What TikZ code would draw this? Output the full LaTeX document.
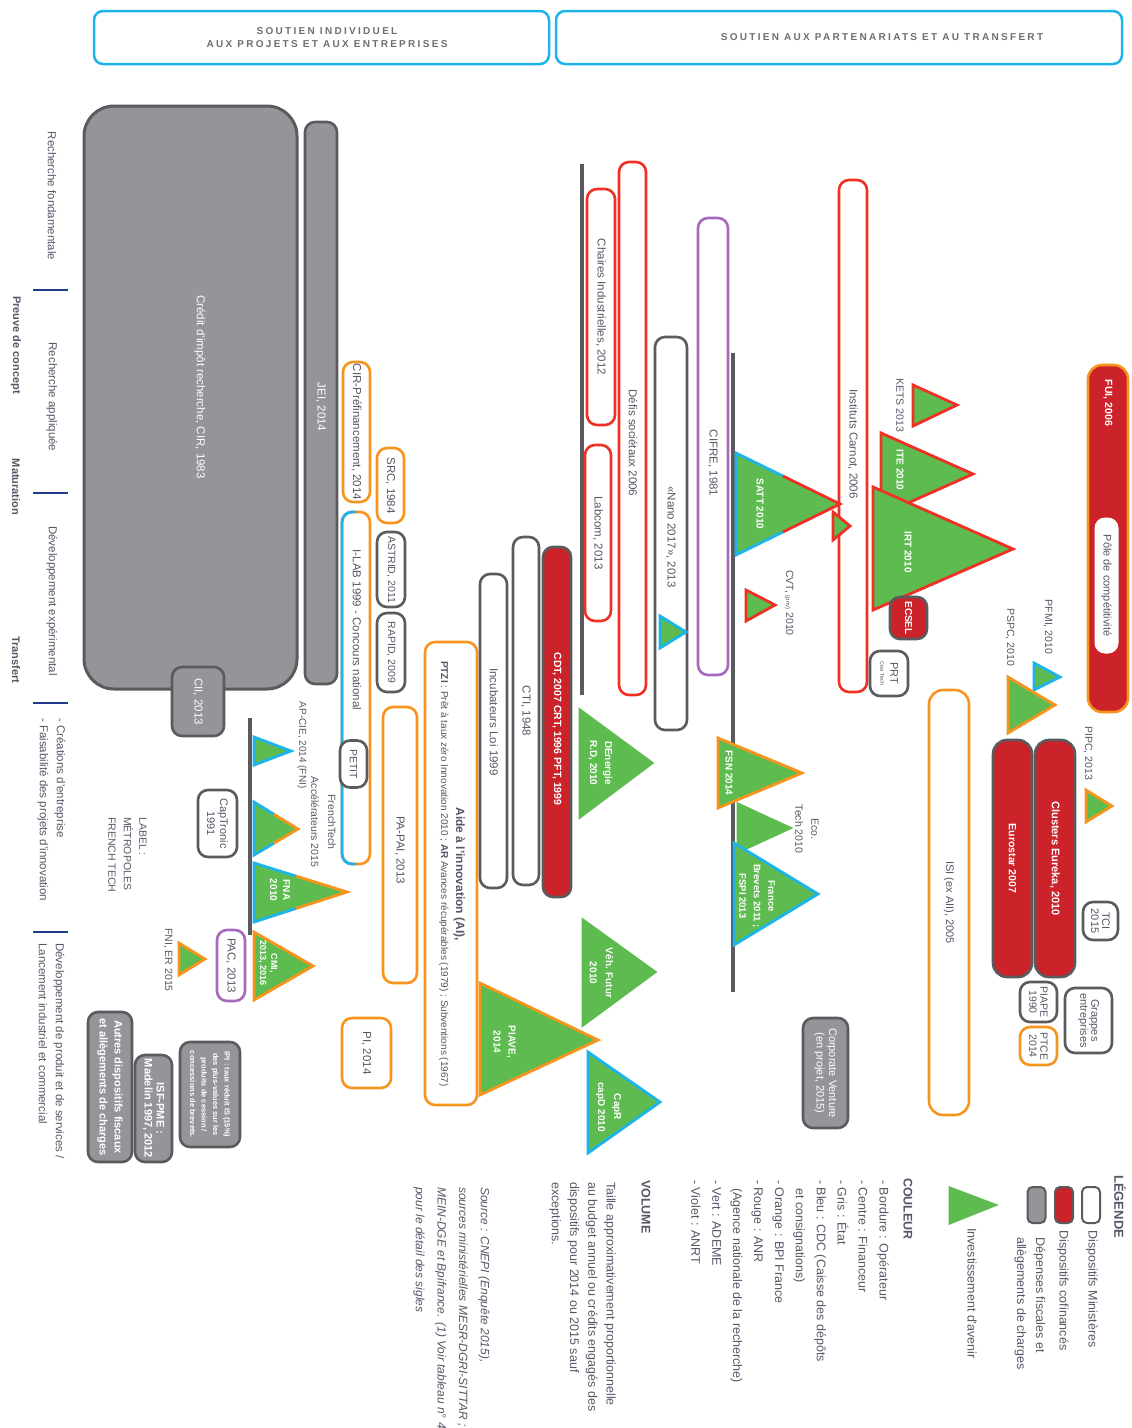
\documentclass[tikz,border=0pt]{standalone}
\usepackage{fontspec}
\setmainfont{Liberation Sans}
\newfontfamily\hdrfont[LetterSpace=23]{Liberation Sans}
\usetikzlibrary{calc}
\definecolor{tcol}{HTML}{555766}
\definecolor{hgray}{HTML}{6D6E71}
\definecolor{cyanc}{HTML}{1DB4EA}
\definecolor{orng}{HTML}{F7941D}
\definecolor{redb}{HTML}{EE3124}
\definecolor{redf}{HTML}{CC2229}
\definecolor{purp}{HTML}{A569BD}
\definecolor{dgray}{HTML}{5A5B5E}
\definecolor{gfill}{HTML}{939598}
\definecolor{grn}{HTML}{5DBB4F}
\definecolor{navy}{HTML}{1F3C88}
\newcommand{\fsz}[2]{\fontsize{#1}{#2}\selectfont}
\tikzset{
 lab/.style={rotate=-90, inner sep=0pt, text=tcol, font=\fsz{11.5}{14}, align=center},
 wlab/.style={rotate=-90, inner sep=0pt, text=white, font=\fsz{10}{13}\bfseries, align=center},
 pill/.style={rotate=-90, draw=#1, line width=2.6pt, fill=white, rounded corners=10pt, inner sep=0pt, text=tcol, font=\fsz{11.5}{14}, align=center},
 gbar/.style={pill=dgray, fill=gfill, text=white},
 rbar/.style={pill=dgray, fill=redf, text=white, font=\fsz{10.5}{13}\bfseries},
 hdr/.style={draw=cyanc, line width=2.5pt, rounded corners=9pt, inner sep=0pt},
 htxt/.style={inner sep=0pt, text=hgray, align=center, font=\hdrfont\bfseries\fsz{10}{13.5}},
 trif/.style={fill=grn, line width=2.8pt, line join=miter},
 trib/.style={line width=2.8pt, line join=miter},
 vline/.style={draw=dgray, line width=4pt},
 axl/.style={draw=navy, line width=1.6pt},
 sw/.style={rotate=-90, line width=2pt, draw=dgray, rounded corners=5pt, minimum width=36, minimum height=18, inner sep=0pt},
}
\newcommand{\trione}[6]{\filldraw[trif, draw=#6] (#1,#2) -- (#4,#5) -- (#1,#3) -- cycle;}
\newcommand{\tritwo}[7]{%
 \fill[grn] (#1,#2) -- (#4,#5) -- (#1,#3) -- cycle;
 \draw[trib, draw=#6] ($(#1,#2)!0.45!(#4,#5)$) -- (#1,#2) -- (#1,#3) -- ($(#1,#3)!0.45!(#4,#5)$);
 \draw[trib, draw=#7] ($(#1,#2)!0.45!(#4,#5)$) -- (#4,#5) -- ($(#1,#3)!0.45!(#4,#5)$);}
\begin{document}
\begin{tikzpicture}[x=1pt,y=-1pt]
\useasboundingbox (0,0) rectangle (1132,1428);
% headers
\node[hdr, minimum width=455, minimum height=53] (h1) at (321.5,37.5) {};
\node[hdr, minimum width=566, minimum height=53] (h2) at (839,37.5) {};
\node[htxt] (h1t) at (327,37.5) {SOUTIEN INDIVIDUEL\\AUX PROJETS ET AUX ENTREPRISES};
\node[htxt] (h2t) at (882,37.5) {SOUTIEN AUX PARTENARIATS ET AU TRANSFERT};
% left axis
\node[lab] (ax1) at (52,196) {Recherche fondamentale};
\node[lab] (ax2) at (52,397) {Recherche appliquée};
\node[lab] (ax3) at (52,601) {Développement expérimental};
\node[lab, font=\fsz{11}{14}\bfseries] (ax4) at (16,345) {Preuve de concept};
\node[lab, font=\fsz{11}{14}\bfseries] (ax5) at (16,487) {Maturation};
\node[lab, font=\fsz{11}{14}\bfseries] (ax6) at (16,660) {Transfert};
\node[lab, font=\fsz{11.5}{17}, align=left, anchor=west] (ax7) at (51.5,718) {- Créations d'entreprise\\- Faisabilité des projets d'innovation};
\node[lab, font=\fsz{11.5}{17}, align=left, anchor=west] (ax8) at (51.5,943) {Développement de produit et de services /\\Lancement industriel et commercial};
\foreach \yy [count=\i] in {290,493,703,932}{
 \coordinate (bl\i a) at (33,\yy); \coordinate (bl\i b) at (68,\yy);
 \draw[axl] (bl\i a) -- (bl\i b);}
% vertical lines
\coordinate (l1a) at (250,718); \coordinate (l1b) at (250,935);
\coordinate (l2a) at (582,164); \coordinate (l2b) at (582,695);
\coordinate (l3a) at (733,353); \coordinate (l3b) at (733,992);
\draw[vline] (l1a) -- (l1b);
\draw[vline] (l2a) -- (l2b);
\draw[vline] (l3a) -- (l3b);
% left column boxes
\node[gbar, minimum width=583, minimum height=213, rounded corners=30pt, line width=3pt] (cir) at (190.5,397.5) {};
\node[lab, text=white] (cirt) at (200,387) {Crédit d'impôt recherche, CIR, 1983};
\node[gbar, minimum width=69, minimum height=52] (cii) at (198,701.5) {CII, 2013};
\node[gbar, minimum width=562, minimum height=32] (jei) at (321,403) {};
\node[lab, text=white] (jeit) at (321,407) {JEI, 2014};
\node[pill=orng, minimum width=140, minimum height=27] (cirpre) at (356.5,432) {CIR-Préfinancement, 2014};
\node[pill=orng, minimum width=75, minimum height=27] (srcb) at (390.5,485.5) {SRC, 1984};
\node[pill=dgray, minimum width=75, minimum height=28, font=\fsz{10.5}{13}] (astrid) at (391,569.5) {ASTRID, 2011};
\node[pill=dgray, minimum width=79, minimum height=28, font=\fsz{10.5}{13}] (rapid) at (391,652.5) {RAPID, 2009};
\node[pill=orng, minimum width=352, minimum height=28] (ilab) at (356,688) {};
\draw[trib, draw=cyanc, rounded corners=10pt] (356,512) -- (342,512) -- (342,864) -- (356,864);
\node[lab] (ilabt) at (357,630) {I-LAB 1999 - Concours national};
\node[pill=dgray, minimum width=47, minimum height=27, font=\fsz{10.5}{13}] (petit) at (353.5,764) {PETIT};
\node[pill=orng, minimum width=276, minimum height=34] (papai) at (400,845) {};
\node[lab] (papait) at (400,850) {PA-PAI, 2013};
\node[pill=orng, minimum width=463, minimum height=52] (aide) at (451,873.5) {};
\node[lab, font=\fsz{10}{15}] (aidet) at (452,874) {{\fsz{12}{15}\bfseries Aide à l'innovation (AI),}\\\textbf{PTZI} : Prêt à taux zéro Innovation 2010 ; \textbf{AR} Avances récupérables (1979) ; Subventions (1967)};
\node[pill=orng, minimum width=70, minimum height=49] (pi) at (366.5,1053) {PI, 2014};
\node[pill=dgray, minimum width=67, minimum height=39, font=\fsz{11}{13}] (captr) at (217.5,823.5) {CapTronic\\1991};
\node[pill=purp, minimum width=71, minimum height=28] (pac) at (231,965.5) {PAC, 2013};
\node[gbar, minimum width=150, minimum height=44, font=\fsz{11}{15}\bfseries] (autres) at (110,1087) {Autres dispositifs fiscaux\\et allègements de charges};
\node[gbar, minimum width=107, minimum height=37, font=\fsz{11}{12}\bfseries] (isf) at (153.5,1108.5) {ISF-PME :\\Madelin 1997, 2012};
\node[gbar, minimum width=105, minimum height=60, font=\fsz{7.5}{11.5}\bfseries] (ipi) at (210,1094.5) {IPI : taux réduit IS (15\%)\\des plus-values sur les\\produits de cession /\\concessions de brevets.};
% middle column boxes
\node[pill=dgray, minimum width=314, minimum height=27] (incub) at (493.5,731) {};
\node[lab] (incubt) at (494,722) {Incubateurs Loi 1999};
\node[pill=dgray, minimum width=348, minimum height=26] (cti) at (526,711) {CTI, 1948};
\node[rbar, minimum width=350, minimum height=28] (cdt) at (557,722) {};
\node[wlab, font=\fsz{10.5}{13}\bfseries] (cdtt) at (557,729) {CDT, 2007 CRT, 1996 PFT, 1999};
\node[pill=redb, minimum width=236, minimum height=28] (chaires) at (601,307) {Chaires Industrielles, 2012};
\node[pill=redb, minimum width=176, minimum height=26] (labcom) at (598,533) {Labcom, 2013};
\node[pill=redb, minimum width=533, minimum height=27] (defis) at (632.5,428.5) {};
\node[lab] (defist) at (633,443) {Défis sociétaux 2006};
\node[pill=dgray, minimum width=393, minimum height=32] (nano) at (671,533.5) {};
\node[lab] (nanot) at (671,537) {«Nano 2017», 2013};
\node[pill=purp, minimum width=457, minimum height=30] (cifre) at (713,446.5) {};
\node[lab] (cifret) at (713,463) {CIFRE, 1981};
\node[pill=redb, minimum width=512, minimum height=28] (carnot) at (853,436) {};
\node[lab] (carnott) at (853,444) {Instituts Carnot, 2006};
% right column boxes
\node[pill=orng, fill=redf, minimum width=347, minimum height=40, rounded corners=14pt] (fui) at (1108,538.5) {};
\node[wlab, font=\fsz{10.5}{13}\bfseries] (fuit) at (1108,403) {FUI, 2006};
\node[pill=white, minimum width=135, minimum height=23, line width=1pt, font=\fsz{11}{13}] (pole) at (1106.5,585.5) {Pôle de compétitivité};
\node[pill=orng, minimum width=425, minimum height=40, rounded corners=14pt, font=\fsz{11}{13}] (isi) at (949,902.5) {ISI (ex AII), 2005};
\node[rbar, minimum width=237, minimum height=39, rounded corners=14pt] (euro) at (1012.5,858.5) {Eurostar 2007};
\node[rbar, minimum width=237, minimum height=40, rounded corners=14pt, font=\fsz{11}{13}\bfseries] (clus) at (1055,858.5) {Clusters Eureka, 2010};
\node[pill=dgray, minimum width=38, minimum height=35, font=\fsz{11}{11}] (tci) at (1100.5,921) {TCI\\2015};
\node[pill=dgray, minimum width=65, minimum height=47, font=\fsz{11}{11}] (grap) at (1088.5,1020.5) {Grappes\\entreprises};
\node[pill=dgray, minimum width=40, minimum height=37, font=\fsz{10.5}{11}] (piape) at (1038.5,1002) {PIAPE\\1990};
\node[pill=orng, minimum width=38, minimum height=37, font=\fsz{10.5}{11}] (ptce) at (1038.5,1046) {PTCE\\2014};
\node[gbar, minimum width=110, minimum height=45, font=\fsz{11}{12.5}] (corp) at (825.5,1073) {Corporate Venture\\(en projet, 2015)};
% triangles
\trione{254}{737}{765}{291}{751}{cyanc}
\tritwo{254}{802}{855}{298}{829}{cyanc}{orng}
\tritwo{254}{863}{922}{347}{892}{cyanc}{orng}
\trione{254}{932}{1000}{313}{966}{orng}
\trione{179}{943}{975}{205}{959}{orng}
\trione{660}{616}{648}{686}{632}{cyanc}
\tritwo{736}{453}{555}{840}{504}{cyanc}{redb}
\trione{833}{512}{540}{850}{526}{redb}
\trione{746}{590}{621}{775}{605}{redb}
\trione{913}{385}{426}{957}{405}{redb}
\trione{881}{433}{515}{973}{474}{redb}
\trione{873}{487}{610}{1013}{549}{redb}
\trione{1034}{663}{690}{1060}{677}{cyanc}
\trione{1008}{677}{733}{1055}{705}{orng}
\trione{1086}{790}{822}{1112}{806}{orng}
\trione{718}{738}{808}{802}{773}{orng}
\trione{738}{804}{852}{790}{828}{grn}
\trione{734}{843}{945}{818}{894}{cyanc}
\trione{580}{710}{817}{652}{763}{grn}
\trione{583}{920}{1025}{655}{972}{grn}
\trione{480}{983}{1095}{598}{1040}{orng}
\trione{588}{1052}{1153}{660}{1102}{cyanc}
% boxes over triangles
\node[rbar, minimum width=42, minimum height=37, font=\fsz{10}{13}\bfseries] (ecsel) at (908.5,618) {ECSEL};
\node[pill=dgray, minimum width=45, minimum height=38, font=\fsz{11}{10}] (prt) at (889,673.5) {PRT\\{\fsz{5.5}{6}Cea Tech}};
% triangle labels
\node[wlab] (fnat) at (280,890) {FNA\\2010};
\node[wlab, font=\fsz{9}{11}\bfseries] (cmit) at (268,963) {CMI,\\2013, 2016};
\node[wlab] (sattt) at (760,504) {SATT 2010};
\node[wlab] (itet) at (900,470) {ITE 2010};
\node[wlab] (irtt) at (908,552) {IRT 2010};
\node[wlab] (fsnt) at (729,773) {FSN 2014};
\node[wlab, font=\fsz{9.5}{14.5}\bfseries] (frt) at (757,896) {France\\Brevets 2011 ;\\FSPI 2013};
\node[wlab, font=\fsz{10}{15}\bfseries] (dent) at (600.5,763) {DEnergie\\R.D, 2010};
\node[wlab, font=\fsz{10}{16}\bfseries] (veht) at (601.5,973) {Véh. Futur\\2010};
\node[wlab, font=\fsz{10}{15}\bfseries] (piat) at (504.5,1042) {PIAVE,\\2014};
\node[wlab, font=\fsz{10}{16}\bfseries] (caprt) at (608.5,1107) {CapR\\capD 2010};
% external labels
\node[lab, font=\fsz{10}{12}] (apciet) at (302,745) {AP-CIE, 2014 (FNI)};
\node[lab, font=\fsz{10.5}{17}] (ftt) at (323.5,822) {FrenchTech\\Accélérateurs 2015};
\node[lab, font=\fsz{10.5}{13}] (fnit) at (168,960) {FNI, ER 2015};
\node[lab, font=\fsz{10.5}{15.5}, align=left, anchor=west] (labelt) at (127.5,817) {LABEL :\\MÉTROPOLES\\FRENCH TECH};
\node[lab, font=\fsz{10.5}{13}] (ketst) at (900,405) {KETS 2013};
\node[lab, font=\fsz{10.5}{13}] (cvtt) at (789,603) {CVT, {\fsz{6}{7}(priv)} 2010};
\node[lab, font=\fsz{10.5}{16}] (ecot) at (807,829) {Eco.\\Tech 2010};
\node[lab, font=\fsz{10.5}{13}] (pspct) at (1010,637) {PSPC, 2010};
\node[lab, font=\fsz{10.5}{13}] (pfmit) at (1048,627) {PFMI, 2010};
\node[lab, font=\fsz{10.5}{13}] (pipct) at (1088,753) {PIPC, 2013};
% legend
\node[sw, fill=white] (sw1) at (1091,1205) {};
\node[sw, fill=redf] (sw2) at (1064,1205) {};
\node[sw, fill=gfill] (sw3) at (1036.5,1205) {};
\trione{950}{1188}{1223}{995}{1205}{grn}
\node[lab, font=\fsz{13}{16}\bfseries, anchor=west] (leg) at (1120,1175) {LÉGENDE};
\node[lab, font=\fsz{12.5}{15}, anchor=west] (lg1) at (1092,1230) {Dispositifs Ministères};
\node[lab, font=\fsz{12.5}{15}, anchor=west] (lg2) at (1063,1230) {Dispositifs cofinancés};
\node[lab, font=\fsz{12.5}{19}, anchor=west, align=left] (lg3) at (1030,1237) {Dépenses fiscales et\\allègements de charges};
\node[lab, font=\fsz{12.5}{15}, anchor=west] (lg4) at (972,1228) {Investissement d'avenir};
\node[lab, font=\fsz{12.5}{15}\bfseries, anchor=west] (coul) at (908,1178) {COULEUR};
\node[lab, font=\fsz{12.5}{20.9}, anchor=west, align=left] (coull) at (790,1180) {- Bordure : Opérateur\\- Centre : Financeur\\- Gris : État\\- Bleu : CDC (Caisse des dépôts\\\hspace*{8pt}et consignations)\\- Orange : BPI France\\- Rouge : ANR\\\hspace*{8pt}(Agence nationale de la recherche)\\- Vert : ADEME\\- Violet : ANRT};
\node[lab, font=\fsz{12.5}{15}\bfseries, anchor=west] (vol) at (646,1180) {VOLUME};
\node[lab, font=\fsz{12.5}{18.3}, anchor=west, align=left] (voll) at (582.5,1182) {Taille approximativement proportionnelle\\au budget annuel ou crédits engagés des\\dispositifs pour 2014 ou 2015 sauf\\exceptions.};
\node[lab, font=\fsz{12}{21.7}\itshape, anchor=west, align=left] (srcl) at (451.5,1187) {Source : CNEPI (Enquête 2015),\\sources ministérielles MESR-DGRI-SITTAR ;\\MEIN-DGE et Bpifrance. (1) Voir tableau n° 4\\pour le détail des sigles};
\end{tikzpicture}
\end{document}
